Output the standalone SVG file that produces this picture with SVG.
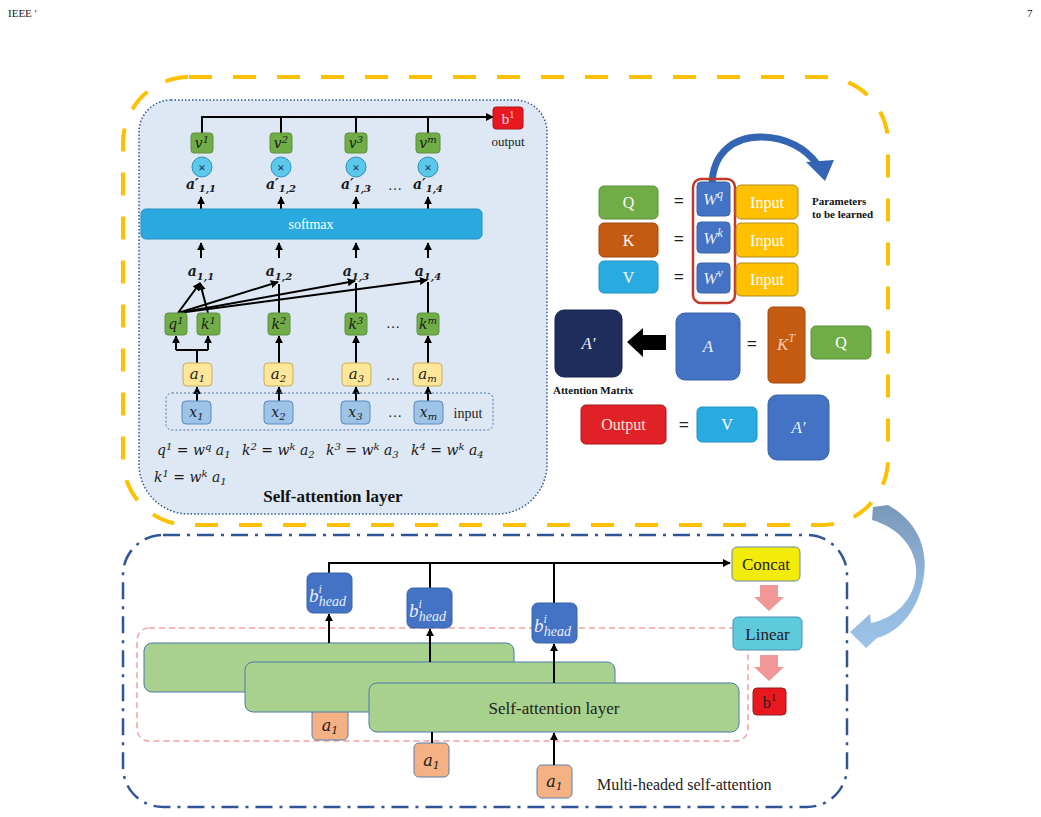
<svg xmlns="http://www.w3.org/2000/svg" width="1041" height="817" viewBox="0 0 1041 817">
<defs>
<style>
.t{font-family:"Liberation Serif",serif}
.m{font-family:"DejaVu Serif","Liberation Serif",serif;font-style:italic;fill:#1a1a1a}
.mb{font-weight:bold}
.ln{stroke:#000;stroke-width:2;fill:none}
.arr{stroke:#000;stroke-width:2;fill:none;marker-end:url(#ah)}
.vb{fill:#70ad47;stroke:#5f8f45;stroke-width:1}
.ab{fill:#ffe699;stroke:#c8ac5c;stroke-width:1}
.xb{fill:#9dc3e6;stroke:#5a89c0;stroke-width:1}
.mul{fill:#5cc8ea;stroke:#2e8fc2;stroke-width:1}
.wb{fill:#4472c4;stroke:#3a62a8;stroke-width:1}
.ib{fill:#ffc000;stroke:#b08a20;stroke-width:1}
.gb{fill:#a9d18e;stroke:#4a7aa8;stroke-width:1}
.ob{fill:#f4b183;stroke:#5a7fae;stroke-width:1}
.hb{fill:#4472c4;stroke:#3a62a8;stroke-width:1}
.wt{fill:#ffffff}
</style>
<marker id="ah" viewBox="0 0 10 10" refX="9" refY="5" markerWidth="8" markerHeight="8" orient="auto" markerUnits="userSpaceOnUse"><path d="M0,0 L10,5 L0,10 z" fill="#000"/></marker>
<linearGradient id="cg" x1="0" y1="0" x2="0" y2="1"><stop offset="0" stop-color="#7a97b8"/><stop offset="0.5" stop-color="#8fb4da"/><stop offset="1" stop-color="#9dc3e8"/></linearGradient>
</defs>
<rect width="1041" height="817" fill="#ffffff"/>
<text class="t" x="8" y="17" font-size="11" fill="#222">IEEE ′</text>
<text class="t" x="1027" y="17" font-size="11" fill="#222">7</text>

<g id="frame-top"><rect x="123" y="77" width="765" height="448" rx="66" fill="none" stroke="#ffc000" stroke-width="4" stroke-dasharray="23 21"/></g>
<g id="frame-bottom"><rect x="123" y="535" width="724" height="272" rx="40" fill="none" stroke="#2f5597" stroke-width="2.5" stroke-dasharray="17 7 3 7"/></g>

<g id="sa-panel">
<path d="M171 100 H515 A32 32 0 0 1 547 132 V464 A50 50 0 0 1 497 514 H189 A50 50 0 0 1 139 464 V132 A32 32 0 0 1 171 100 Z" fill="#dde8f4" stroke="#2f5597" stroke-width="1.5" stroke-dasharray="1.5 2"/>
<text class="t" x="333" y="502" font-size="17" font-weight="bold" text-anchor="middle" fill="#111">Self-attention layer</text>
</g>

<g id="connectors">
<polyline class="ln" points="202,133 202,117 493,117" marker-end="url(#ah)"/>
<line class="ln" x1="281" y1="133" x2="281" y2="117"/>
<line class="ln" x1="356" y1="133" x2="356" y2="117"/>
<line class="ln" x1="428" y1="133" x2="428" y2="117"/>
<line class="arr" x1="201" y1="209" x2="201" y2="197"/>
<line class="arr" x1="281" y1="209" x2="281" y2="197"/>
<line class="arr" x1="356" y1="209" x2="356" y2="197"/>
<line class="arr" x1="428" y1="209" x2="428" y2="197"/>
<line class="arr" x1="201" y1="258" x2="201" y2="243"/>
<line class="arr" x1="279" y1="258" x2="279" y2="243"/>
<line class="arr" x1="356" y1="258" x2="356" y2="243"/>
<line class="arr" x1="428" y1="258" x2="428" y2="243"/>
<line class="arr" x1="178" y1="313" x2="200" y2="283"/>
<line class="arr" x1="208" y1="313" x2="200" y2="283"/>
<line class="arr" x1="178" y1="313" x2="278" y2="282"/>
<line class="arr" x1="178" y1="313" x2="355" y2="281"/>
<line class="arr" x1="178" y1="313" x2="427" y2="280"/>
<line class="ln" x1="279" y1="313" x2="279" y2="284"/>
<line class="ln" x1="356" y1="313" x2="356" y2="283"/>
<line class="ln" x1="428" y1="313" x2="428" y2="282"/>
<polyline class="ln" points="197,363 197,350"/>
<polyline class="arr" points="176,350 176,336"/>
<polyline class="arr" points="208,350 208,336"/>
<line class="ln" x1="176" y1="350" x2="208" y2="350"/>
<line class="arr" x1="279" y1="363" x2="279" y2="336"/>
<line class="arr" x1="356" y1="363" x2="356" y2="336"/>
<line class="arr" x1="428" y1="363" x2="428" y2="336"/>
<line class="arr" x1="197" y1="401" x2="197" y2="387"/>
<line class="arr" x1="279" y1="401" x2="279" y2="387"/>
<line class="arr" x1="356" y1="401" x2="356" y2="387"/>
<line class="arr" x1="428" y1="401" x2="428" y2="387"/>
</g>

<g id="input-group"><rect x="166" y="393" width="327" height="37" rx="6" fill="none" stroke="#4a7ab5" stroke-width="1" stroke-dasharray="2 2"/></g>

<g id="v-nodes">
<rect class="vb" x="191" y="133" width="22" height="20" rx="3"/><text class="m" x="202" y="148" font-size="14" text-anchor="middle">v<tspan font-size="10" dy="-5">1</tspan></text>
<rect class="vb" x="270" y="133" width="22" height="20" rx="3"/><text class="m" x="281" y="148" font-size="14" text-anchor="middle">v<tspan font-size="10" dy="-5">2</tspan></text>
<rect class="vb" x="345" y="133" width="22" height="20" rx="3"/><text class="m" x="356" y="148" font-size="14" text-anchor="middle">v<tspan font-size="10" dy="-5">3</tspan></text>
<rect class="vb" x="416" y="133" width="24" height="20" rx="3"/><text class="m" x="428" y="148" font-size="14" text-anchor="middle">v<tspan font-size="10" dy="-5">m</tspan></text>
</g>
<g id="mul-nodes">
<circle class="mul" cx="202" cy="167" r="10"/><text class="t" x="202" y="171.5" font-size="13" font-weight="bold" text-anchor="middle" fill="#1f3864">×</text>
<circle class="mul" cx="281" cy="167" r="10"/><text class="t" x="281" y="171.5" font-size="13" font-weight="bold" text-anchor="middle" fill="#1f3864">×</text>
<circle class="mul" cx="356" cy="167" r="10"/><text class="t" x="356" y="171.5" font-size="13" font-weight="bold" text-anchor="middle" fill="#1f3864">×</text>
<circle class="mul" cx="428" cy="167" r="10"/><text class="t" x="428" y="171.5" font-size="13" font-weight="bold" text-anchor="middle" fill="#1f3864">×</text>
</g>
<g id="aprime-labels">
<text class="m mb" x="201" y="189" font-size="14" text-anchor="middle">a′<tspan font-size="10" dy="3">1,1</tspan></text>
<text class="m mb" x="281" y="189" font-size="14" text-anchor="middle">a′<tspan font-size="10" dy="3">1,2</tspan></text>
<text class="m mb" x="356" y="189" font-size="14" text-anchor="middle">a′<tspan font-size="10" dy="3">1,3</tspan></text>
<text class="t" x="395" y="190" font-size="14" text-anchor="middle" fill="#222">…</text>
<text class="m mb" x="428" y="189" font-size="14" text-anchor="middle">a′<tspan font-size="10" dy="3">1,4</tspan></text>
</g>
<g id="softmax"><rect x="141" y="209" width="341" height="30" rx="5" fill="#29a9e0" stroke="#2590c4" stroke-width="1"/><text class="t wt" x="311" y="229" font-size="14" text-anchor="middle">softmax</text></g>
<g id="a-scores">
<text class="m mb" x="201" y="276" font-size="14" text-anchor="middle">a<tspan font-size="10" dy="4">1,1</tspan></text>
<text class="m mb" x="279" y="276" font-size="14" text-anchor="middle">a<tspan font-size="10" dy="4">1,2</tspan></text>
<text class="m mb" x="356" y="276" font-size="14" text-anchor="middle">a<tspan font-size="10" dy="4">1,3</tspan></text>
<text class="m mb" x="428" y="276" font-size="14" text-anchor="middle">a<tspan font-size="10" dy="4">1,4</tspan></text>
</g>
<g id="qk-nodes">
<rect class="vb" x="165" y="313" width="22" height="22" rx="3"/><text class="m" x="176" y="329" font-size="14" text-anchor="middle">q<tspan font-size="10" dy="-5">1</tspan></text>
<rect class="vb" x="197" y="313" width="23" height="22" rx="3"/><text class="m" x="208.5" y="329" font-size="14" text-anchor="middle">k<tspan font-size="10" dy="-5">1</tspan></text>
<rect class="vb" x="268" y="313" width="22" height="22" rx="3"/><text class="m" x="279" y="329" font-size="14" text-anchor="middle">k<tspan font-size="10" dy="-5">2</tspan></text>
<rect class="vb" x="345" y="313" width="22" height="22" rx="3"/><text class="m" x="356" y="329" font-size="14" text-anchor="middle">k<tspan font-size="10" dy="-5">3</tspan></text>
<text class="t" x="393" y="328" font-size="14" text-anchor="middle" fill="#222">…</text>
<rect class="vb" x="417" y="313" width="22" height="22" rx="3"/><text class="m" x="428" y="329" font-size="14" text-anchor="middle">k<tspan font-size="10" dy="-5">m</tspan></text>
</g>
<g id="a-nodes">
<rect class="ab" x="183" y="363" width="29" height="23" rx="4"/><text class="m" x="197.5" y="379" font-size="15" text-anchor="middle">a<tspan font-size="10" dy="3">1</tspan></text>
<rect class="ab" x="264" y="363" width="29" height="23" rx="4"/><text class="m" x="278.5" y="379" font-size="15" text-anchor="middle">a<tspan font-size="10" dy="3">2</tspan></text>
<rect class="ab" x="342" y="363" width="29" height="23" rx="4"/><text class="m" x="356.5" y="379" font-size="15" text-anchor="middle">a<tspan font-size="10" dy="3">3</tspan></text>
<text class="t" x="393" y="380" font-size="14" text-anchor="middle" fill="#222">…</text>
<rect class="ab" x="413" y="363" width="29" height="23" rx="4"/><text class="m" x="427.5" y="379" font-size="15" text-anchor="middle">a<tspan font-size="10" dy="3">m</tspan></text>
</g>
<g id="x-nodes">
<rect class="xb" x="182" y="401" width="29" height="23" rx="4"/><text class="m" x="196.5" y="417" font-size="14" text-anchor="middle">x<tspan font-size="10" dy="3">1</tspan></text>
<rect class="xb" x="264" y="401" width="29" height="23" rx="4"/><text class="m" x="278.5" y="417" font-size="14" text-anchor="middle">x<tspan font-size="10" dy="3">2</tspan></text>
<rect class="xb" x="341" y="401" width="29" height="23" rx="4"/><text class="m" x="355.5" y="417" font-size="14" text-anchor="middle">x<tspan font-size="10" dy="3">3</tspan></text>
<text class="t" x="395" y="417" font-size="14" text-anchor="middle" fill="#222">…</text>
<rect class="xb" x="414" y="401" width="29" height="23" rx="4"/><text class="m" x="428.5" y="417" font-size="14" text-anchor="middle">x<tspan font-size="10" dy="3">m</tspan></text>
<text class="t" x="468" y="418" font-size="14" text-anchor="middle" fill="#222">input</text>
</g>
<g id="output-b1">
<rect x="493" y="107" width="30" height="22" rx="3" fill="#e8181e" stroke="#b01418" stroke-width="1"/>
<text class="t" x="508" y="124" font-size="15" text-anchor="middle" fill="#fde8e8">b<tspan font-size="10" dy="-6">1</tspan></text>
<text class="t" x="508" y="146" font-size="13" text-anchor="middle" fill="#222">output</text>
</g>
<g id="equations">
<text class="m" x="157" y="455" font-size="14">q<tspan font-size="10" dy="-5">1</tspan><tspan dy="5" font-style="normal"> = </tspan><tspan>w</tspan><tspan font-size="10" dy="-5">q</tspan><tspan dy="5"> a</tspan><tspan font-size="10" dy="3">1</tspan></text>
<text class="m" x="242" y="455" font-size="14">k<tspan font-size="10" dy="-5">2</tspan><tspan dy="5" font-style="normal"> = </tspan><tspan>w</tspan><tspan font-size="10" dy="-5">k</tspan><tspan dy="5"> a</tspan><tspan font-size="10" dy="3">2</tspan></text>
<text class="m" x="326" y="455" font-size="14">k<tspan font-size="10" dy="-5">3</tspan><tspan dy="5" font-style="normal"> = </tspan><tspan>w</tspan><tspan font-size="10" dy="-5">k</tspan><tspan dy="5"> a</tspan><tspan font-size="10" dy="3">3</tspan></text>
<text class="m" x="411" y="455" font-size="14">k<tspan font-size="10" dy="-5">4</tspan><tspan dy="5" font-style="normal"> = </tspan><tspan>w</tspan><tspan font-size="10" dy="-5">k</tspan><tspan dy="5"> a</tspan><tspan font-size="10" dy="3">4</tspan></text>
<text class="m" x="154" y="482" font-size="14">k<tspan font-size="10" dy="-5">1</tspan><tspan dy="5" font-style="normal"> = </tspan><tspan>w</tspan><tspan font-size="10" dy="-5">k</tspan><tspan dy="5"> a</tspan><tspan font-size="10" dy="3">1</tspan></text>
</g>

<g id="qkv">
<path d="M712 186 C712 152 735 137 760 137 C787 137 806 149 817 164" stroke="#3465b4" stroke-width="7" fill="none"/>
<polygon points="806,162 834,160 825,181" fill="#3465b4"/>
<rect x="599" y="186" width="59" height="33" rx="5" fill="#70ad47" stroke="#5a8f3c"/><text class="t wt" x="628.5" y="208" font-size="16" text-anchor="middle">Q</text>
<rect x="599" y="223" width="59" height="34" rx="5" fill="#c55a11" stroke="#9e480e"/><text class="t wt" x="628.5" y="246" font-size="16" text-anchor="middle">K</text>
<rect x="599" y="261" width="59" height="32" rx="5" fill="#29aae1" stroke="#2190c0"/><text class="t wt" x="628.5" y="283" font-size="16" text-anchor="middle">V</text>
<text class="t" x="679" y="207" font-size="18" font-weight="bold" text-anchor="middle" fill="#222">=</text>
<text class="t" x="679" y="245" font-size="18" font-weight="bold" text-anchor="middle" fill="#222">=</text>
<text class="t" x="679" y="283" font-size="18" font-weight="bold" text-anchor="middle" fill="#222">=</text>
<rect x="693" y="179" width="42" height="124" rx="8" fill="none" stroke="#c0392b" stroke-width="2.5"/>
<rect class="wb" x="697" y="182" width="33" height="34" rx="4"/><text class="t" x="713" y="205" font-size="17" font-style="italic" text-anchor="middle" fill="#e8eef8">W<tspan font-size="12" dy="-7">q</tspan></text>
<rect class="wb" x="697" y="222" width="33" height="31" rx="4"/><text class="t" x="713" y="244" font-size="17" font-style="italic" text-anchor="middle" fill="#e8eef8">W<tspan font-size="12" dy="-7">k</tspan></text>
<rect class="wb" x="697" y="263" width="33" height="30" rx="4"/><text class="t" x="713" y="284" font-size="17" font-style="italic" text-anchor="middle" fill="#e8eef8">W<tspan font-size="12" dy="-7">v</tspan></text>
<rect class="ib" x="736" y="185" width="62" height="34" rx="5"/><text class="t wt" x="767" y="208" font-size="16" text-anchor="middle">Input</text>
<rect class="ib" x="736" y="223" width="62" height="34" rx="5"/><text class="t wt" x="767" y="246" font-size="16" text-anchor="middle">Input</text>
<rect class="ib" x="736" y="263" width="62" height="33" rx="5"/><text class="t wt" x="767" y="285" font-size="16" text-anchor="middle">Input</text>
<text class="t" x="812" y="205" font-size="11" font-weight="bold" fill="#111">Parameters</text>
<text class="t" x="812" y="218" font-size="11" font-weight="bold" fill="#111">to be learned</text>
</g>

<g id="attention-matrix">
<rect x="555" y="310" width="67" height="67" rx="9" fill="#1f2d5c" stroke="#182348"/>
<text class="t" x="588.5" y="349" font-size="17" font-style="italic" text-anchor="middle" fill="#e8eef8">A′</text>
<polygon points="627,342 643,328 643,335 666,335 666,350 643,350 643,357" fill="#000"/>
<rect x="676" y="313" width="64" height="67" rx="9" fill="#4472c4" stroke="#3a62a8"/>
<text class="t" x="708" y="352" font-size="17" font-style="italic" text-anchor="middle" fill="#e8eef8">A</text>
<text class="t" x="752" y="350" font-size="18" font-weight="bold" text-anchor="middle" fill="#222">=</text>
<rect x="768" y="307" width="37" height="76" rx="5" fill="#c55a11" stroke="#9e480e"/>
<text class="t" x="786" y="350" font-size="17" font-style="italic" text-anchor="middle" fill="#f8cbad">K<tspan font-size="12" dy="-8">T</tspan></text>
<rect x="811" y="326" width="60" height="33" rx="5" fill="#70ad47" stroke="#5a8f3c"/><text class="t wt" x="841" y="348" font-size="16" text-anchor="middle">Q</text>
<text class="t" x="553" y="394" font-size="11" font-weight="bold" fill="#111">Attention Matrix</text>
</g>

<g id="output-eq">
<rect x="581" y="405" width="85" height="39" rx="5" fill="#e02127" stroke="#a8171b"/>
<text class="t" x="623.5" y="430" font-size="16" text-anchor="middle" fill="#fbe5d6">Output</text>
<text class="t" x="684" y="431" font-size="18" font-weight="bold" text-anchor="middle" fill="#222">=</text>
<rect x="697" y="407" width="60" height="35" rx="5" fill="#29aae1" stroke="#2190c0"/><text class="t wt" x="727" y="430" font-size="16" text-anchor="middle">V</text>
<rect x="768" y="395" width="61" height="65" rx="9" fill="#4472c4" stroke="#3a62a8"/>
<text class="t" x="798.5" y="433" font-size="17" font-style="italic" text-anchor="middle" fill="#e8eef8">A′</text>
</g>

<g id="heads-group"><rect x="137" y="628" width="611" height="113" rx="12" fill="none" stroke="#f4a0a0" stroke-width="1.5" stroke-dasharray="6 4"/></g>
<g id="a1-input-1"><rect class="ob" x="312" y="705" width="36" height="35" rx="5"/><text class="m" x="330" y="731" font-size="16" text-anchor="middle">a<tspan font-size="11" dy="3">1</tspan></text></g>
<g id="sa-layer-1"><rect class="gb" x="144" y="643" width="370" height="49" rx="8"/></g>
<g id="sa-layer-2"><rect class="gb" x="245" y="662" width="370" height="50" rx="8"/></g>
<g id="sa-layer-3"><rect class="gb" x="369" y="683" width="370" height="49" rx="8"/><text class="t" x="554" y="714" font-size="17" text-anchor="middle" fill="#222">Self-attention layer</text></g>
<g id="a1-input-2"><rect class="ob" x="414" y="743" width="35" height="34" rx="5"/><text class="m" x="431.5" y="766" font-size="16" text-anchor="middle">a<tspan font-size="11" dy="3">1</tspan></text></g>
<g id="a1-input-3"><rect class="ob" x="537" y="765" width="35" height="33" rx="5"/><text class="m" x="554.5" y="787" font-size="16" text-anchor="middle">a<tspan font-size="11" dy="3">1</tspan></text></g>

<g id="head-connectors">
<polyline class="ln" points="329,573 329,563 730,563" marker-end="url(#ah)"/>
<line class="ln" x1="430" y1="563" x2="430" y2="588"/>
<line class="ln" x1="554" y1="563" x2="554" y2="603"/>
<line class="arr" x1="329" y1="643" x2="329" y2="614"/>
<line class="arr" x1="430" y1="662" x2="430" y2="629"/>
<line class="arr" x1="554" y1="683" x2="554" y2="644"/>
<line class="ln" x1="432" y1="732" x2="432" y2="743"/>
<line class="arr" x1="554" y1="765" x2="554" y2="733"/>
</g>

<g id="head-1"><rect class="hb" x="307" y="573" width="45" height="40" rx="6"/><text class="t" x="309" y="602" font-size="19" font-style="italic" fill="#e8eef8">b<tspan font-size="12" dy="-9">i</tspan><tspan font-size="14" dx="-3" dy="13">head</tspan></text></g>
<g id="head-2"><rect class="hb" x="407" y="588" width="45" height="40" rx="6"/><text class="t" x="409" y="617" font-size="19" font-style="italic" fill="#e8eef8">b<tspan font-size="12" dy="-9">i</tspan><tspan font-size="14" dx="-3" dy="13">head</tspan></text></g>
<g id="head-3"><rect class="hb" x="532" y="603" width="45" height="40" rx="6"/><text class="t" x="534" y="632" font-size="19" font-style="italic" fill="#e8eef8">b<tspan font-size="12" dy="-9">i</tspan><tspan font-size="14" dx="-3" dy="13">head</tspan></text></g>

<g id="concat"><rect x="732" y="547" width="68" height="34" rx="5" fill="#f3ec0b" stroke="#6a86a8"/><text class="t" x="766" y="570" font-size="17" text-anchor="middle" fill="#222">Concat</text></g>
<g id="down-arrows">
<polygon points="760,585 778,585 778,597 784,597 769,611 754,597 760,597" fill="#f19797"/>
<polygon points="760,655 778,655 778,667 784,667 769,681 754,667 760,667" fill="#f19797"/>
</g>
<g id="linear"><rect x="733" y="617" width="69" height="33" rx="5" fill="#5ecbdd" stroke="#4a8fb0"/><text class="t" x="767.5" y="640" font-size="17" text-anchor="middle" fill="#222">Linear</text></g>
<g id="b1-out"><rect x="753" y="688" width="33" height="27" rx="4" fill="#e8181e" stroke="#8a2020"/><text class="t" x="769.5" y="708" font-size="16" text-anchor="middle" fill="#222">b<tspan font-size="11" dy="-7">1</tspan></text></g>
<text class="t" x="597" y="790" font-size="16" fill="#222">Multi-headed self-attention</text>

<g id="flow-arrow"><path d="M873 507 L888 505 C915 520 928 545 924 575 C920 608 900 632 877 638 L866 648 L850 632 L870 614 L871 623 C895 618 914 600 916 575 C918 550 900 528 872 520 Z" fill="url(#cg)"/></g>
</svg>
